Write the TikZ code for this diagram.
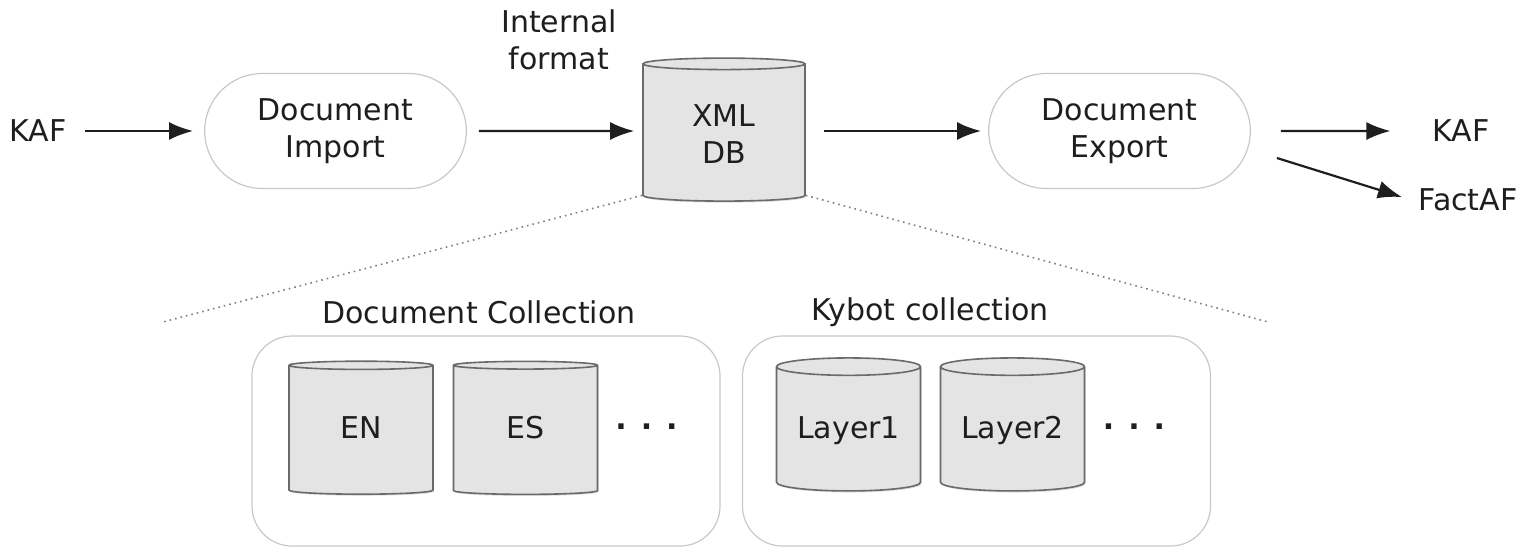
\documentclass[tikz,border=0pt]{standalone}
\usepackage{fontspec}
\setmainfont{DejaVu Sans}
\usetikzlibrary{shapes.geometric,shapes.misc,arrows.meta,shadows}
\definecolor{inkdark}{HTML}{1E1E1E}
\definecolor{pillgray}{HTML}{C8C8C8}
\definecolor{dbfill}{HTML}{E4E4E4}
\definecolor{dbline}{HTML}{6A6A6A}
\definecolor{dotgray}{HTML}{808080}
\newcommand{\diagtext}{\fontsize{15}{18.5}\selectfont}

\begin{document}
\begin{tikzpicture}[x=0.5pt,y=-0.5pt,font=\diagtext,text=inkdark,
  stage/.style={rounded rectangle,draw=pillgray,line width=0.6pt,minimum width=137.5pt,minimum height=57.5pt,align=center},
  store/.style={cylinder,shape border rotate=90,aspect=0.15,draw=dbline,fill=dbfill,line width=0.8pt,align=center,
    drop shadow={shadow xshift=0.6pt,shadow yshift=-0.8pt,opacity=0.25}},
  substore/.style={store,minimum width=72pt,minimum height=66.5pt,text height=11pt,text depth=3.5pt},
  group/.style={draw=pillgray,line width=0.6pt,rounded corners=20pt,minimum width=234pt,minimum height=105pt},
  flow/.style={-{Latex[length=12pt,width=9pt]},line width=1.1pt,color=inkdark},
  zoomline/.style={dotted,line width=0.8pt,color=dotgray}]
\useasboundingbox (0,0) rectangle (1526,548);

% top row: import -> store -> export
\node (kafin) at (38,131) {KAF};
\node[stage] (import) at (335.5,131) {Document\\Import};
\node[store,minimum width=81pt,minimum height=71.5pt] (db) at (724,134) {XML\\DB};
\node[align=center] (fmt) at (559,40) {Internal\\format};
\node[stage] (export) at (1119.5,131) {Document\\Export};
\node (kafout) at (1461,131) {KAF};
\node (factaf) at (1468,200) {FactAF};

\draw[flow,shorten <=5.75pt,shorten >=5.5pt] (kafin) -- (import);
\draw[flow,shorten <=6pt,shorten >=4pt] (import) -- (import -| db.west);
\draw[flow,shorten <=9pt,shorten >=3.5pt] (db.east |- export) -- (export);
\draw[flow,shorten <=15pt,shorten >=17.5pt] (export) -- (kafout);
\draw[flow,shorten >=5pt] ([xshift=13pt,yshift=-13.5pt]export.east) -- (factaf.west);

% collections below
\node[group] (doccoll) at (486,441) {};
\node[group] (kycoll) at (976.5,441) {};
\node (doclbl) at (479,312) {Document Collection};
\node (kylbl) at (930,312) {Kybot collection};

\node[substore] (en) at (361,431) {EN};
\node[substore] (es) at (525.5,431) {ES};
\node (docmore) at (646.5,427) {\textbf{. . .}};
\node[substore] (lay1) at (848.5,431) {Layer1};
\node[substore] (lay2) at (1012.5,431) {Layer2};
\node (kymore) at (1134,427) {\textbf{. . .}};

\coordinate (zoomleft) at (163,322);
\coordinate (zoomright) at (1268,322);
\draw[zoomline] (db.after bottom) -- (zoomleft);
\draw[zoomline] (db.before bottom) -- (zoomright);
\end{tikzpicture}
\end{document}
